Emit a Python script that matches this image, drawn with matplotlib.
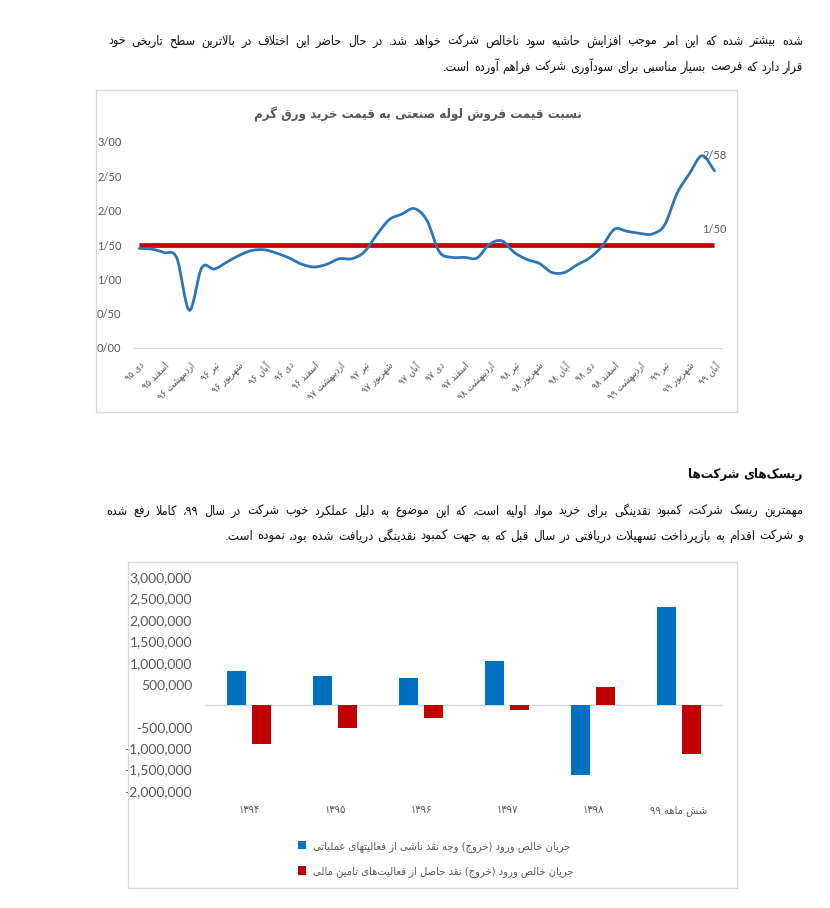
import re
import matplotlib
matplotlib.use('Agg')
import matplotlib.pyplot as plt
import matplotlib.patches as mpatches
from matplotlib.path import Path
from matplotlib.ticker import FuncFormatter
import numpy as np

W, H = 830, 908
FA = ['DejaVu Sans']
NUM = ['Lato', 'DejaVu Sans']
GRAY = '#595959'
STRETCH = 'condensed'

# ---- data: chart 1 (monthly ratio, دی ۹۵ .. آبان ۹۹) ----
ratio = [1.45, 1.44, 1.39, 1.31, 0.55, 1.17, 1.15, 1.25, 1.35, 1.42,
         1.43, 1.38, 1.31, 1.22, 1.18, 1.22, 1.30, 1.30, 1.40, 1.65,
         1.87, 1.95, 2.03, 1.86, 1.40, 1.32, 1.32, 1.31, 1.51, 1.56,
         1.39, 1.29, 1.23, 1.10, 1.10, 1.21, 1.31, 1.48, 1.73, 1.70,
         1.67, 1.66, 1.79, 2.25, 2.54, 2.80, 2.58]
benchmark = 1.50
x_labels = ['دی ۹۵', 'اسفند ۹۵', 'اردیبهشت ۹۶', 'تیر ۹۶', 'شهریور ۹۶', 'آبان ۹۶',
            'دی ۹۶', 'اسفند ۹۶', 'اردیبهشت ۹۷', 'تیر ۹۷', 'شهریور ۹۷', 'آبان ۹۷',
            'دی ۹۷', 'اسفند ۹۷', 'اردیبهشت ۹۸', 'تیر ۹۸', 'شهریور ۹۸', 'آبان ۹۸',
            'دی ۹۸', 'اسفند ۹۸', 'اردیبهشت ۹۹', 'تیر ۹۹', 'شهریور ۹۹', 'آبان ۹۹']
chart1_title = 'نسبت قیمت فروش لوله صنعتی به قیمت خرید ورق گرم'

# ---- data: chart 2 (cash flows) ----
years = ['۱۳۹۴', '۱۳۹۵', '۱۳۹۶', '۱۳۹۷', '۱۳۹۸', 'شش ماهه ۹۹']
operating = [800000, 680000, 630000, 1045000, -1630000, 2310000]
financing = [-915000, -525000, -305000, -110000, 420000, -1135000]
legend_labels = ['جریان خالص ورود (خروج) وجه نقد ناشی از فعالیتهای عملیاتی',
                 'جریان خالص ورود (خروج) نقد حاصل از فعالیت‌های تامین مالی']

# ---- page text ----
para1 = ['شده بیشتر شده که این امر موجب افزایش حاشیه سود ناخالص شرکت خواهد شد. در حال حاضر این اختلاف در بالاترین سطح تاریخی خود',
         'قرار دارد که فرصت بسیار مناسبی برای سودآوری شرکت فراهم آورده است.']
heading = 'ریسک‌های شرکت‌ها'
para2 = ['مهمترین ریسک شرکت، کمبود نقدینگی برای خرید مواد اولیه است، که این موضوع به دلیل عملکرد خوب شرکت در سال ۹۹، کاملا رفع شده',
         'و شرکت اقدام به بازپرداخت تسهیلات دریافتی در سال قبل که به جهت کمبود نقدینگی دریافت شده بود، نموده است.']

# ---- simple Persian shaping (presentation forms + visual order) ----
_tbl = [(0x0621, 0xFE80, 1), (0x0622, 0xFE81, 2), (0x0623, 0xFE83, 2), (0x0624, 0xFE85, 2),
        (0x0625, 0xFE87, 2), (0x0626, 0xFE89, 4), (0x0627, 0xFE8D, 2), (0x0628, 0xFE8F, 4),
        (0x0629, 0xFE93, 2), (0x062A, 0xFE95, 4), (0x062B, 0xFE99, 4), (0x062C, 0xFE9D, 4),
        (0x062D, 0xFEA1, 4), (0x062E, 0xFEA5, 4), (0x062F, 0xFEA9, 2), (0x0630, 0xFEAB, 2),
        (0x0631, 0xFEAD, 2), (0x0632, 0xFEAF, 2), (0x0633, 0xFEB1, 4), (0x0634, 0xFEB5, 4),
        (0x0635, 0xFEB9, 4), (0x0636, 0xFEBD, 4), (0x0637, 0xFEC1, 4), (0x0638, 0xFEC5, 4),
        (0x0639, 0xFEC9, 4), (0x063A, 0xFECD, 4), (0x0641, 0xFED1, 4), (0x0642, 0xFED5, 4),
        (0x0643, 0xFED9, 4), (0x0644, 0xFEDD, 4), (0x0645, 0xFEE1, 4), (0x0646, 0xFEE5, 4),
        (0x0647, 0xFEE9, 4), (0x0648, 0xFEED, 2), (0x0649, 0xFEEF, 2), (0x064A, 0xFEF1, 4),
        (0x067E, 0xFB56, 4), (0x0686, 0xFB7A, 4), (0x0698, 0xFB8A, 2), (0x06A9, 0xFB8E, 4),
        (0x06AF, 0xFB92, 4), (0x06CC, 0xFBFC, 4)]
FORMS = {chr(c): tuple(chr(s + k) for k in range(n)) for c, s, n in _tbl}
LIG = {'ا': ('\uFEFB', '\uFEFC'), 'آ': ('\uFEF5', '\uFEF6'),
       'أ': ('\uFEF7', '\uFEF8'), 'إ': ('\uFEF9', '\uFEFA')}
MIRROR = str.maketrans('()[]', ')(][')
LTR = r'[0-9\u06F0-\u06F9A-Za-z]'


def _jt(c):
    if c == '\u0640':
        return 'D'
    f = FORMS.get(c)
    if f is None:
        return 'U'
    return {1: 'U', 2: 'R', 4: 'D'}[len(f)]


def shape(s):
    s = s.replace('ي', 'ی').replace('ك', 'ک')
    out, i, n = [], 0, len(s)
    while i < n:
        c = s[i]
        if c not in FORMS:
            if c != '\u200c':
                out.append(c)
            i += 1
            continue
        f = FORMS[c]
        pj = i > 0 and _jt(s[i - 1]) == 'D' and len(f) > 1
        if c == 'ل' and i + 1 < n and s[i + 1] in LIG:
            iso, fin = LIG[s[i + 1]]
            out.append(fin if pj else iso)
            i += 2
            continue
        nj = len(f) == 4 and i + 1 < n and _jt(s[i + 1]) in ('D', 'R')
        if len(f) == 1:
            g = f[0]
        elif pj and nj:
            g = f[3]
        elif pj:
            g = f[1]
        elif nj:
            g = f[2]
        else:
            g = f[0]
        out.append(g)
        i += 1
    return ''.join(out)


def fa(s):
    s = shape(s)
    runs = re.findall(LTR + r'+(?:[.,/:]' + LTR + r'+)*|(?:(?!' + LTR + r').)+', s)
    vis = []
    for r in reversed(runs):
        vis.append(r if re.match(LTR, r) else r[::-1].translate(MIRROR))
    return ''.join(vis)


def rect(l, t, r, b):
    return [l / W, 1 - b / H, (r - l) / W, (b - t) / H]


fig = plt.figure(figsize=(W / 100, H / 100), dpi=100, facecolor='white')
renderer = fig.canvas.get_renderer()


def rtl_line(text, y_px, right_px, left_px=None, size=9, weight='normal', color='#111111'):
    words = text.split(' ')
    objs = [fig.text(0, 0, fa(w), fontsize=size, fontweight=weight, color=color,
                     ha='right', va='baseline', family=FA, fontstretch=STRETCH)
            for w in words]
    widths = [o.get_window_extent(renderer).width for o in objs]
    if left_px is not None and len(words) > 1:
        gap = (right_px - left_px - sum(widths)) / (len(words) - 1)
    else:
        gap = size * 100 / 72 * 0.3
    x = right_px
    for o, w in zip(objs, widths):
        o.set_position((x / W, 1 - y_px / H))
        x -= w + gap


# page text
rtl_line(para1[0], 45, 803, 108, size=9)
rtl_line(para1[1], 71, 803, size=9)
rtl_line(heading, 478, 803, size=9.5, weight='bold')
rtl_line(para2[0], 515, 803, 106, size=9)
rtl_line(para2[1], 540, 803, size=9.5)

# chart frames
for l, t, r, b in [(96, 90, 737, 412), (128, 562, 737, 888)]:
    fig.add_artist(mpatches.Rectangle((l / W, 1 - b / H), (r - l) / W, (b - t) / H,
                                      transform=fig.transFigure, fill=False,
                                      edgecolor='#D9D9D9', linewidth=1))

# ---------------- chart 1 ----------------
ax1 = fig.add_axes(rect(134, 142, 722, 348))
x = np.arange(len(ratio))
y = np.array(ratio)
pts = np.column_stack([x, y])
ext = np.vstack([pts[0], pts, pts[-1]])
verts, codes = [pts[0]], [Path.MOVETO]
for i in range(len(pts) - 1):
    p0, p1, p2, p3 = ext[i], ext[i + 1], ext[i + 2], ext[i + 3]
    verts += [p1 + (p2 - p0) / 6, p2 - (p3 - p1) / 6, p2]
    codes += [Path.CURVE4] * 3
ax1.add_patch(mpatches.PathPatch(Path(verts, codes), fill=False, edgecolor='#2E75B6',
                                 linewidth=2, capstyle='round', zorder=3))
ax1.hlines(benchmark, x[0], x[-1], color='#C00000', linewidth=3.4, zorder=2)

ax1.set_xlim(-0.42, 46.6)
ax1.set_ylim(0, 3)
ax1.set_yticks(np.arange(0, 3.01, 0.5))
ax1.yaxis.set_major_formatter(FuncFormatter(lambda v, p: f'{v:.2f}'.replace('.', '/')))
ax1.set_xticks(x[::2])
ax1.set_xticklabels([fa(s) for s in x_labels], rotation=45, ha='right',
                    rotation_mode='anchor', fontsize=7, color=GRAY, family=FA,
                    fontstretch=STRETCH)
ax1.tick_params(axis='x', length=0, pad=9)
ax1.tick_params(axis='y', length=0, pad=9, labelsize=8, labelcolor=GRAY)
for t in ax1.get_yticklabels():
    t.set_family(NUM)
for s in ['top', 'right', 'left']:
    ax1.spines[s].set_visible(False)
ax1.spines['bottom'].set_color('#D9D9D9')
ax1.set_facecolor('none')

for val in [ratio[-1], benchmark]:
    ax1.annotate(f'{val:.2f}'.replace('.', '/'), (x[-1], val), xytext=(0, 7),
                 textcoords='offset points', ha='center', va='bottom',
                 fontsize=8, color=GRAY, family=NUM)

fig.text(418 / W, 1 - 118 / H, fa(chart1_title), ha='center', va='baseline',
         fontsize=9.5, fontweight='bold', color=GRAY, family=FA, fontstretch=STRETCH)

# ---------------- chart 2 ----------------
ax2 = fig.add_axes(rect(206, 577.3, 722, 790.7))
xc = np.arange(len(years))
bw = 0.22
b1 = ax2.bar(xc - 0.145, operating, bw, color='#0070C0', zorder=3)
b2 = ax2.bar(xc + 0.145, financing, bw, color='#C00000', zorder=3)
ax2.axhline(0, color='#D9D9D9', linewidth=1, zorder=1)
ax2.set_xlim(-0.5, len(years) - 0.5)
ax2.set_ylim(-2000000, 3000000)
ax2.set_yticks(np.arange(-2000000, 3000001, 500000))
ax2.yaxis.set_major_formatter(FuncFormatter(lambda v, p: '' if v == 0 else f'{v:,.0f}'))
ax2.set_xticks(xc)
ax2.set_xticklabels([fa(s) for s in years], fontsize=8, color=GRAY, family=FA,
                    fontstretch=STRETCH)
ax2.tick_params(axis='x', length=0, pad=10)
ax2.tick_params(axis='y', length=0, pad=10, labelsize=10, labelcolor=GRAY)
for t in ax2.get_yticklabels():
    t.set_family(NUM)
for s in ax2.spines.values():
    s.set_visible(False)
ax2.set_facecolor('none')

fig.legend([b1, b2], [fa(s) for s in legend_labels], loc='upper left',
           bbox_to_anchor=(298 / W, 1 - 841 / H), frameon=False, ncol=1,
           prop={'family': FA, 'size': 8, 'stretch': STRETCH}, labelcolor=GRAY,
           handlelength=0.75, handleheight=0.75, handletextpad=0.6,
           labelspacing=1.3, borderpad=0, borderaxespad=0)

fig.savefig('out.png', dpi=100, facecolor='white')
